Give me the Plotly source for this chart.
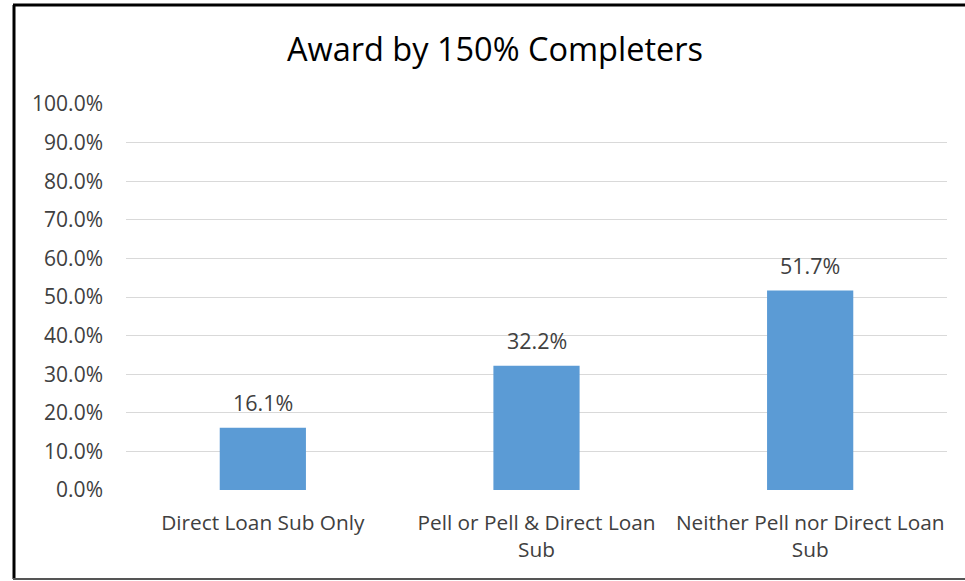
import plotly.graph_objects as go

categories = ["Direct Loan Sub Only", "Pell or Pell & Direct Loan<br>Sub", "Neither Pell nor Direct Loan<br>Sub"]
values = [16.1, 32.2, 51.7]
tick_vals = [0, 10, 20, 30, 40, 50, 60, 70, 80, 90, 100]
tick_text = [f"{v:.1f}%" for v in tick_vals]
labels = [f"{v:.1f}%" for v in values]

FONT = "Open Sans, Liberation Sans, sans-serif"
TXT = "#404040"

fig = go.Figure(go.Bar(
    x=categories, y=values, marker_color="#5B9BD5", marker_line_width=0,
    hoverinfo="skip",
))

L, R, T, B = 126, 947, 104, 490
W, H = R - L, B - T
def px(x): return (x - L) / W
def py(y): return (B - y) / H

annotations = [
    dict(x=c, y=v, text=t, showarrow=False, xanchor="center", yanchor="middle",
         yshift=25, font=dict(size=21.5, color=TXT, family=FONT))
    for c, v, t in zip(categories, values, labels)
]

fig.update_layout(
    width=965, height=581,
    margin=dict(l=L, r=965 - R, t=T, b=581 - B),
    paper_bgcolor="white", plot_bgcolor="white",
    bargap=0.685,
    showlegend=False,
    title=dict(text="Award by 150% Completers", x=495 / 965, xanchor="center",
               y=1 - 50 / 581, yanchor="middle", xref="container", yref="container",
               font=dict(size=32.5, color="#000000", family=FONT)),
    font=dict(family=FONT, color=TXT, size=21),
    xaxis=dict(showline=False, ticks="", tickfont=dict(size=20.8, color=TXT),
               ticklabelstandoff=18, automargin=False),
    yaxis=dict(range=[0, 100], tickvals=tick_vals, ticktext=tick_text,
               showgrid=True, gridcolor="#D9D9D9", gridwidth=1, zeroline=False,
               ticks="", ticklen=0, tickfont=dict(size=21, color=TXT),
               ticklabelstandoff=22, automargin=False),
    annotations=annotations,
    shapes=[
        dict(type="line", xref="paper", yref="paper", x0=px(14), x1=px(14), y0=py(5), y1=py(579),
             line=dict(color="#000000", width=3)),
        dict(type="line", xref="paper", yref="paper", x0=px(13), x1=px(975), y0=py(5), y1=py(5),
             line=dict(color="#000000", width=3)),
        dict(type="line", xref="paper", yref="paper", x0=px(13), x1=px(975), y0=py(579), y1=py(579),
             line=dict(color="#555555", width=2)),
    ],
)

fig.write_html("out.html")
